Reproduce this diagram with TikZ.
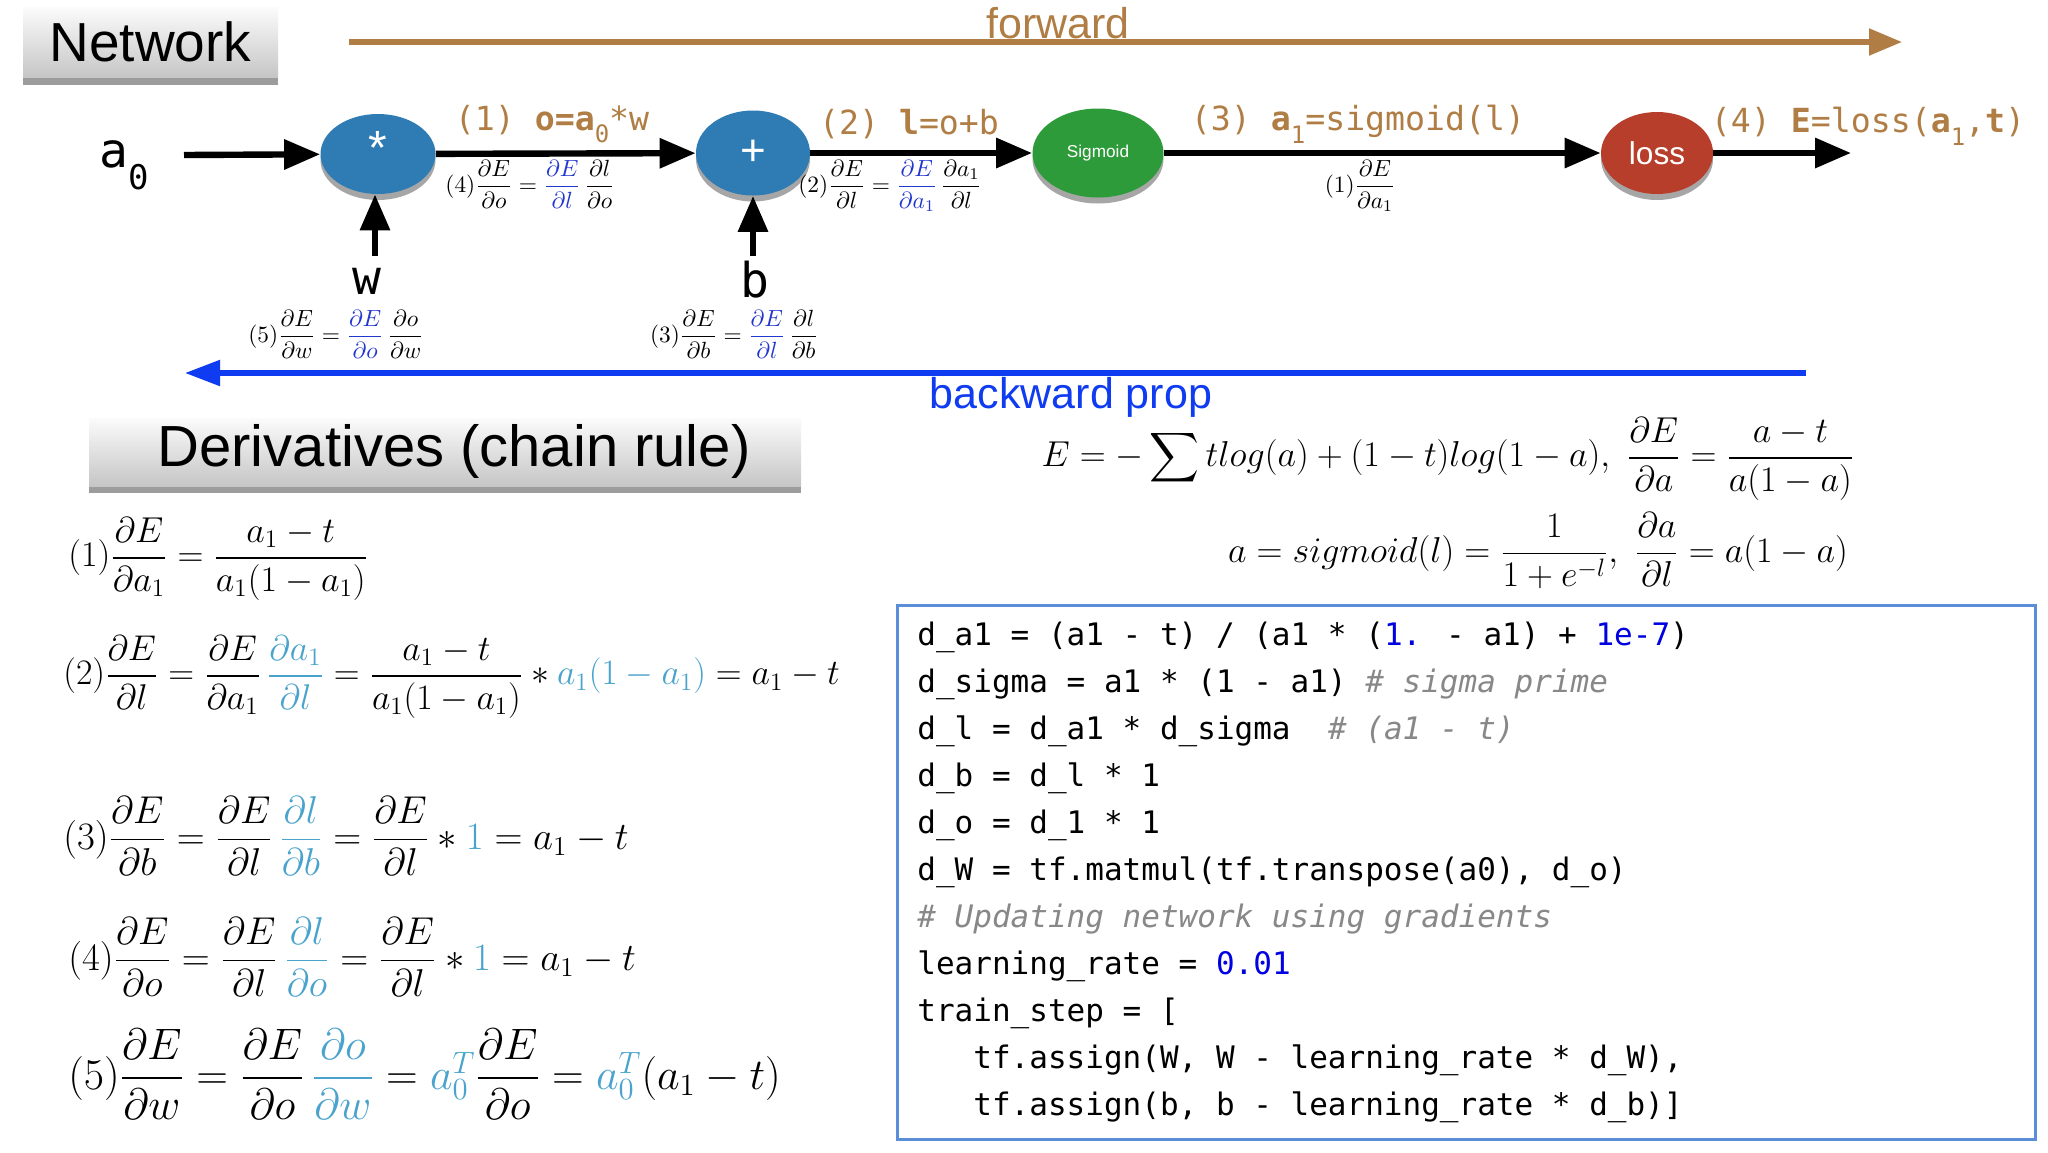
\RequirePackage{fix-cm}
\documentclass[tikz,border=0pt]{standalone}
\usepackage{amsmath}
\usepackage[no-math]{fontspec}
\usetikzlibrary{arrows.meta,shapes.geometric,shadows}
\newfontfamily\hel{Liberation Sans}
\newfontfamily\mono{DejaVu Sans Mono}
\definecolor{brownc}{HTML}{B07E45}
\definecolor{bwdblue}{HTML}{0F3CF0}
\definecolor{dblue}{HTML}{2236D0}
\definecolor{lblue}{HTML}{4AA3CC}
\definecolor{codeblue}{HTML}{0000E0}
\definecolor{codegray}{HTML}{888888}
\definecolor{boxblue}{HTML}{5A8ED8}
\definecolor{nblue}{HTML}{2F7BB3}
\definecolor{ngreen}{HTML}{2E9B3B}
\definecolor{nred}{HTML}{B83E2C}
\newcommand{\msub}[1]{\raisebox{-0.38em}{\fontsize{12}{12}\selectfont #1}}
\begin{document}
\begin{tikzpicture}[x=0.5pt,y=-0.5pt,
  hbox/.style={rectangle, inner sep=0pt, top color=gray!3, bottom color=gray!45,
    drop shadow={shadow xshift=0pt, shadow yshift=-3.5pt, opacity=0.7, fill=gray!90!black}},
  opnode/.style={ellipse, inner sep=0pt, text=white,
    drop shadow={shadow xshift=0pt, shadow yshift=-3pt, opacity=0.35, fill=black}},
  arr/.style={draw=black, line width=3.2pt, -{Triangle[length=18pt,width=14.5pt]}},
  elbl/.style={inner sep=0pt, text=brownc, font=\mono\fontsize{16.6}{18}\selectfont},
  mlbl/.style={inner sep=0pt, font=\fontsize{11.7}{14}\selectfont},
  varlbl/.style={inner sep=0pt, font=\mono\fontsize{24}{26}\selectfont},
  eqn/.style={inner sep=0pt, anchor=west},
  code/.style={inner sep=0pt, anchor=base west, font=\mono\fontsize{15.5}{18}\selectfont}
]
\useasboundingbox (0,0) rectangle (2048,1152);
\fill[white] (0,0) rectangle (2048,1152);

% headers
\node[hbox, minimum width=127.5pt, minimum height=35pt] (nethead) at (150.5,42.5) {};
\node[inner sep=0pt, font=\hel\fontsize{27.5}{30}\selectfont] (nettxt) at (150.5,42) {Network};
\node[hbox, minimum width=356pt, minimum height=34pt] (derhead) at (445,452) {};
\node[inner sep=0pt, font=\hel\fontsize{29}{32}\selectfont] (dertxt) at (454,451) {Derivatives (chain rule)};

% forward arrow
\coordinate (fs) at (349,42);
\coordinate (fe) at (1902,42);
\draw[draw=brownc, line width=2.6pt, -{Triangle[length=16.5pt,width=13pt]}] (fs) -- (fe);
\node[inner sep=0pt, anchor=base, text=brownc, font=\hel\fontsize{21.5}{24}\selectfont] (fwdtxt) at (1058,38) {forward};

% backward arrow
\coordinate (bs) at (1806,373);
\coordinate (be) at (185,373);
\draw[draw=bwdblue, line width=2.6pt, -{Triangle[length=17.5pt,width=12.5pt]}] (bs) -- (be);
\node[inner sep=0pt, anchor=base, text=bwdblue, font=\hel\fontsize{21.5}{24}\selectfont] (bwdtxt) at (1071,408) {backward prop};

% network nodes
\node[opnode, fill=nblue, minimum width=57.5pt, minimum height=40pt] (mul) at (378,154) {};
\node[inner sep=0pt, text=white, font=\hel\fontsize{24}{26}\selectfont] (multxt) at (378,148) {*};
\node[opnode, fill=nblue, minimum width=57pt, minimum height=42.5pt] (add) at (753,153) {\hel\fontsize{22}{24}\selectfont +};
\node[opnode, fill=ngreen, minimum width=65.5pt, minimum height=44.5pt] (sig) at (1098,153) {\hel\fontsize{8.6}{10}\selectfont Sigmoid};
\node[opnode, fill=nred, minimum width=56pt, minimum height=41pt] (loss) at (1657,153) {\hel\fontsize{15.8}{18}\selectfont loss};

% variable labels
\node[varlbl] (a0) at (124,165) {a\raisebox{-0.45em}{\fontsize{17}{17}\selectfont 0}};
\node[varlbl] (w) at (367,281) {w};
\node[varlbl] (b) at (755,280) {b};

% connectors
\coordinate (a0s) at (184,155);
\coordinate (ws) at (375,256);
\coordinate (bs2) at (753,256);
\coordinate (outend) at (1851,153);
\draw[arr] (a0s) -- (mul);
\draw[arr] (ws) -- (mul.south -| ws);
\draw[arr] (mul) -- (add);
\draw[arr] (bs2) -- (add);
\draw[arr] (add) -- (sig);
\draw[arr] (sig) -- (loss);
\draw[arr] (loss) -- (outend);

% edge labels (forward)
\node[elbl] (l1) at (552,124) {(1) \textbf{o=a}\msub{0}*w};
\node[elbl] (l2) at (909,124) {(2) \textbf{l}=o+b};
\node[elbl] (l3) at (1358,124) {(3) \textbf{a}\msub{1}=sigmoid(l)};
\node[elbl] (l4) at (1868,126) {(4) \textbf{E}=loss(\textbf{a}\msub{1},\textbf{t})};

% small derivative labels
\node[mlbl] (d4) at (530,184) {$(4)\dfrac{\partial E}{\partial o}=\textcolor{dblue}{\dfrac{\partial E}{\partial l}}\,\dfrac{\partial l}{\partial o}$};
\node[mlbl] (d2) at (890,186) {$(2)\dfrac{\partial E}{\partial l}=\textcolor{dblue}{\dfrac{\partial E}{\partial a_1}}\,\dfrac{\partial a_1}{\partial l}$};
\node[mlbl] (d1) at (1360,186) {$(1)\dfrac{\partial E}{\partial a_1}$};
\node[mlbl] (d5) at (336,334) {$(5)\dfrac{\partial E}{\partial w}=\textcolor{dblue}{\dfrac{\partial E}{\partial o}}\,\dfrac{\partial o}{\partial w}$};
\node[mlbl] (d3) at (734,334) {$(3)\dfrac{\partial E}{\partial b}=\textcolor{dblue}{\dfrac{\partial E}{\partial l}}\,\dfrac{\partial l}{\partial b}$};

% chain rule equations
\node[eqn, font=\fontsize{18}{22}\selectfont] (e1) at (68,559) {$(1)\dfrac{\partial E}{\partial a_1}=\dfrac{a_1-t}{a_1(1-a_1)}$};
\node[eqn, font=\fontsize{17.9}{22}\selectfont] (e2) at (63,677) {$(2)\dfrac{\partial E}{\partial l}=\dfrac{\partial E}{\partial a_1}\,\textcolor{lblue}{\dfrac{\partial a_1}{\partial l}}=\dfrac{a_1-t}{a_1(1-a_1)}*\textcolor{lblue}{a_1(1-a_1)}=a_1-t$};
\node[eqn, font=\fontsize{19.4}{22}\selectfont] (e3) at (63,836) {$(3)\dfrac{\partial E}{\partial b}=\dfrac{\partial E}{\partial l}\,\textcolor{lblue}{\dfrac{\partial l}{\partial b}}=\dfrac{\partial E}{\partial l}*\textcolor{lblue}{1}=a_1-t$};
\node[eqn, font=\fontsize{19.4}{22}\selectfont] (e4) at (68,957) {$(4)\dfrac{\partial E}{\partial o}=\dfrac{\partial E}{\partial l}\,\textcolor{lblue}{\dfrac{\partial l}{\partial o}}=\dfrac{\partial E}{\partial l}*\textcolor{lblue}{1}=a_1-t$};
\node[eqn, font=\fontsize{22}{26}\selectfont] (e5) at (68,1074) {$(5)\dfrac{\partial E}{\partial w}=\dfrac{\partial E}{\partial o}\,\textcolor{lblue}{\dfrac{\partial o}{\partial w}}=\textcolor{lblue}{a_0^T}\dfrac{\partial E}{\partial o}=\textcolor{lblue}{a_0^T}(a_1-t)$};

% loss / sigmoid equations
\node[inner sep=0pt, font=\fontsize{18}{22}\selectfont] (r1) at (1448,459) {$\displaystyle E=-\sum tlog(a)+(1-t)log(1-a),\ \frac{\partial E}{\partial a}=\frac{a-t}{a(1-a)}$};
\node[inner sep=0pt, font=\fontsize{18}{22}\selectfont] (r2) at (1538,551) {$\displaystyle a=sigmoid(l)=\frac{1}{1+e^{-l}},\ \frac{\partial a}{\partial l}=a(1-a)$};

% code box
\node[draw=boxblue, line width=1.5pt, rectangle, inner sep=0pt, minimum width=569pt, minimum height=267pt] (codebox) at (1466,872) {};
\node[code] (c1) at (917,645) {d\_a1 = (a1 - t) / (a1 * (\textcolor{codeblue}{1.} - a1) + \textcolor{codeblue}{1e-7})};
\node[code] (c2) at (917,692) {d\_sigma = a1 * (1 - a1) \textcolor{codegray}{\itshape\# sigma prime}};
\node[code] (c3) at (917,739) {d\_l = d\_a1 * d\_sigma\phantom{xx}\textcolor{codegray}{\itshape\# (a1 - t)}};
\node[code] (c4) at (917,786) {d\_b = d\_l * 1};
\node[code] (c5) at (917,833) {d\_o = d\_1 * 1};
\node[code] (c6) at (917,880) {d\_W = tf.matmul(tf.transpose(a0), d\_o)};
\node[code] (c7) at (917,927) {\textcolor{codegray}{\itshape\# Updating network using gradients}};
\node[code] (c8) at (917,974) {learning\_rate = \textcolor{codeblue}{0.01}};
\node[code] (c9) at (917,1021) {train\_step = [};
\node[code] (c10) at (917,1068) {\phantom{xxx}tf.assign(W, W - learning\_rate * d\_W),};
\node[code] (c11) at (917,1115) {\phantom{xxx}tf.assign(b, b - learning\_rate * d\_b)]};
\end{tikzpicture}
\end{document}
